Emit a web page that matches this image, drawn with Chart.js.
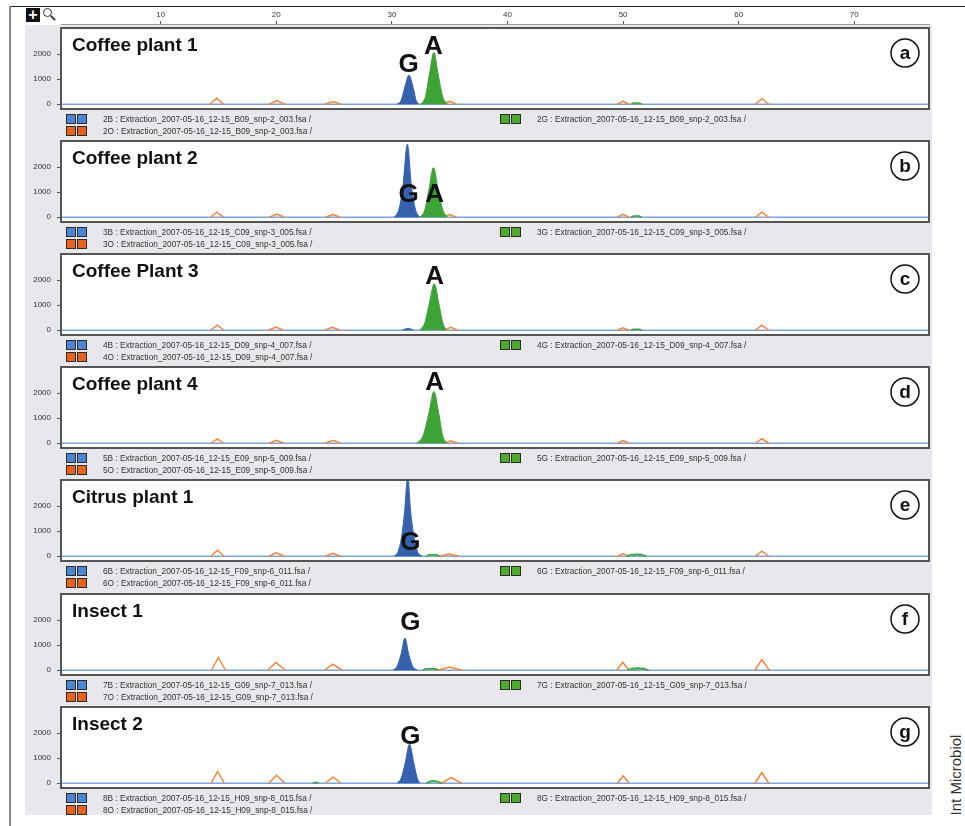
<!DOCTYPE html>
<html>
<head>
<meta charset="utf-8">
<title>SNP genotyping electropherograms</title>
<script src="https://cdn.jsdelivr.net/npm/chart.js@4.4.1/dist/chart.umd.min.js"></script>
<style>
  html, body { margin: 0; padding: 0; background: #fff; }
  body { width: 965px; height: 826px; position: relative; overflow: hidden;
         font-family: "Liberation Sans", Arial, sans-serif; color: #333; }
  #frameTop { position: absolute; left: 10px; top: 6px; width: 955px; height: 1px; background: #222; }
  #frameLeft { position: absolute; left: 9px; top: 6px; width: 2px; height: 820px; background: #8a8a8a; }
  #workspace { position: absolute; left: 25px; top: 25px; width: 907px; height: 790px; background: #e8e8ec; }
  #toolPlus { position: absolute; left: 26px; top: 8px; width: 14px; height: 14px; background: #111;
              color: #fff; font: bold 16px/14px "Liberation Sans", Arial, sans-serif; text-align: center; }
  #toolLens { position: absolute; left: 43px; top: 8px; width: 7px; height: 7px; border: 1.5px solid #333; border-radius: 50%; }
  #toolHandle { position: absolute; left: 50px; top: 17px; width: 6px; height: 2px; background: #333; transform: rotate(45deg); }
  canvas { position: absolute; }
  .legendText { position: absolute; font-size: 8.3px; line-height: 10px; white-space: nowrap; color: #333; z-index: 2; }
  .swatch { position: absolute; width: 8px; height: 8px; border: 1px solid #2a2a2a; z-index: 2; }
  #journal { position: absolute; left: 955px; top: 775px; transform: translate(-50%, -50%) rotate(-90deg);
             font-size: 15px; white-space: nowrap; color: #333; }
</style>
</head>
<body>
<div id="frameTop"></div>
<div id="frameLeft"></div>
<div id="workspace"></div>
<div id="toolPlus">+</div>
<div id="toolLens"></div>
<div id="toolHandle"></div>
<div id="journal">Int Microbiol</div>

<script>
// ---- axis values ----
const rulerTicks = [10, 20, 30, 40, 50, 60, 70];
const yTicks = [0, 1000, 2000];

// ---- samples ----
const panelTitles = ['Coffee plant 1', 'Coffee plant 2', 'Coffee Plant 3', 'Coffee plant 4',
                     'Citrus plant 1', 'Insect 1', 'Insect 2'];
const panelLetters = ['a', 'b', 'c', 'd', 'e', 'f', 'g'];
const sampleNums = [2, 3, 4, 5, 6, 7, 8];
const wells = ['B09', 'C09', 'D09', 'E09', 'F09', 'G09', 'H09'];
const runNums = ['003', '005', '007', '009', '011', '013', '015'];

// ---- blue (G) trace, [size, rfu] ----
const blueA = [[30.45,0],[30.8,150],[31.1,650],[31.48,1160],[31.85,650],[32.1,150],[32.35,0]];
const blueB = [[30.2,0],[30.6,300],[30.95,1200],[31.34,2920],[31.7,1200],[32.05,300],[32.4,0]];
const blueC = [[30.9,0],[31.4,80],[31.9,0]];
const blueD = [];
const blueE = [[30.2,0],[30.55,200],[30.85,800],[31.1,1800],[31.37,3200],[31.62,1800],[31.9,800],[32.2,200],[32.6,0]];
const blueF = [[30.1,0],[30.45,150],[30.8,650],[31.13,1290],[31.45,650],[31.8,150],[32.2,0]];
const blueG = [[30.45,0],[30.8,200],[31.15,800],[31.52,1560],[31.9,800],[32.2,200],[32.4,0]];

// ---- green (A) trace ----
const greenA = [[32.5,0],[32.9,300],[33.25,1200],[33.64,2070],[34.0,1200],[34.4,300],[34.8,0]];
const greenB = [[32.45,0],[32.85,300],[33.2,1100],[33.6,1985],[34.0,1100],[34.4,300],[34.8,0]];
const greenC = [[32.4,0],[32.85,300],[33.25,1100],[33.67,1860],[34.05,1100],[34.4,300],[34.75,0]];
const greenD = [[32.15,0],[32.7,300],[33.2,1200],[33.64,2070],[34.05,1200],[34.4,300],[34.75,0]];
const greenE = [];
const greenF = [];
const greenG = [];

// ---- orange size standard: [start, apex, height, end] ----
const orangeA = [[14.25,14.85,240,15.45],[19.4,20.05,150,20.75],[24.2,24.9,110,25.6],[34.4,35.0,120,35.6],[49.5,50.0,130,50.5],[61.45,62.0,220,62.6]];
const orangeB = [[14.3,14.85,200,15.45],[19.4,20.05,130,20.7],[24.25,24.9,110,25.55],[34.45,35.0,110,35.6],[49.5,50.0,120,50.5],[61.45,62.0,200,62.6]];
const orangeC = [[14.3,14.9,200,15.5],[19.35,19.95,130,20.6],[24.2,24.85,120,25.5],[34.5,35.1,120,35.7],[49.5,50.0,100,50.5],[61.45,62.0,200,62.6]];
const orangeD = [[14.35,14.9,170,15.45],[19.4,20.0,120,20.65],[24.25,24.9,120,25.55],[34.55,35.1,100,35.7],[49.5,50.0,110,50.5],[61.45,62.0,180,62.6]];
const orangeE = [[14.35,14.9,240,15.5],[19.4,20.0,150,20.65],[24.25,24.9,120,25.55],[34.1,34.9,90,35.8],[49.5,50.0,100,50.5],[61.45,62.0,200,62.6]];
const orangeF = [[14.4,14.99,510,15.6],[19.25,19.97,310,20.8],[24.15,24.9,240,25.7],[33.9,35.0,130,36.1],[49.45,49.97,320,50.5],[61.4,62.0,430,62.65]];
const orangeG = [[14.35,14.93,470,15.5],[19.35,20.03,320,20.75],[24.25,24.93,250,25.6],[34.3,35.1,230,36.05],[49.5,50.0,290,50.55],[61.4,62.0,430,62.6]];

// ---- minor green bumps ----
const minorGreenA = [[[50.7,0],[50.9,50],[51.4,50],[51.6,0]]];
const minorGreenB = [[[50.7,0],[50.9,50],[51.4,50],[51.6,0]]];
const minorGreenC = [[[50.7,0],[50.9,45],[51.4,45],[51.6,0]]];
const minorGreenD = [];
const minorGreenE = [[[33.0,0],[33.2,60],[33.9,60],[34.1,0]], [[50.3,0],[50.7,70],[51.6,70],[52.0,0]]];
const minorGreenF = [[[32.7,0],[32.9,60],[33.8,60],[34.0,0]], [[50.4,0],[50.8,80],[51.8,70],[52.2,0]]];
const minorGreenG = [[[23.15,0],[23.4,40],[23.65,0]], [[33.0,0],[33.3,80],[33.6,100],[33.9,80],[34.3,0]]];

// ---- minor blue bumps ----
const minorBlueE = [[[50.8,0],[51.2,90],[51.6,0]]];
const minorBlueF = [[[50.9,0],[51.3,110],[51.8,0]]];

// ---- base call letters: [letter, size, rfu] ----
const callsA = [['G', 31.45, 1570], ['A', 33.6, 2300]];
const callsB = [['G', 31.45, 880], ['A', 33.7, 880]];
const callsC = [['A', 33.7, 2120]];
const callsD = [['A', 33.7, 2430]];
const callsE = [['G', 31.6, 520]];
const callsF = [['G', 31.6, 1880]];
const callsG = [['G', 31.6, 1860]];

const blueTraces = [blueA, blueB, blueC, blueD, blueE, blueF, blueG];
const greenTraces = [greenA, greenB, greenC, greenD, greenE, greenF, greenG];
const orangeTraces = [orangeA, orangeB, orangeC, orangeD, orangeE, orangeF, orangeG];
const minorGreens = [minorGreenA, minorGreenB, minorGreenC, minorGreenD, minorGreenE, minorGreenF, minorGreenG];
const minorBlues = [[], [], [], [], minorBlueE, minorBlueF, []];
const baseCalls = [callsA, callsB, callsC, callsD, callsE, callsF, callsG];

// ---- layout ----
const FONT = '"Liberation Sans", Arial, sans-serif';
const X_MIN = 1.38, X_MAX = 76.46;
const Y_MIN = -190, Y_MAX = 3050;
const CANVAS_LEFT = 25, CANVAS_W = 907;
const AXIS_W = 36, PAD_R = 3;
const PANEL_H = 81, PANEL_STEP = 113.1, FIRST_TOP = 28, EXTRA = 6;

const COLORS = {
  baseline: '#7ea6dd', blue: '#3561ae', green: '#3ea336', orange: '#f3863a'
};

function toPoints(list) { return list.map(p => ({ x: p[0], y: p[1] })); }
function bumpsToPoints(bumps) {
  const out = [];
  bumps.forEach((b, i) => {
    if (i > 0) out.push({ x: b[0][0], y: null });
    b.forEach(p => out.push({ x: p[0], y: p[1] }));
  });
  return out;
}
function sizeStdToPoints(peaks) {
  const out = [];
  peaks.forEach((p, i) => {
    if (i > 0) out.push({ x: p[0], y: null });
    out.push({ x: p[0], y: 0 }, { x: p[1], y: p[2] }, { x: p[3], y: 0 });
  });
  return out;
}

function makeCanvas(left, top, w, h) {
  const c = document.createElement('canvas');
  c.width = w; c.height = h;
  c.style.left = left + 'px'; c.style.top = top + 'px';
  c.style.width = w + 'px'; c.style.height = h + 'px';
  document.body.appendChild(c);
  return c;
}

// ---- size ruler across the top ----
const rulerCanvas = makeCanvas(CANVAS_LEFT, 7, CANVAS_W, 22);
new Chart(rulerCanvas, {
  type: 'scatter',
  data: { datasets: [{ data: [] }] },
  options: {
    animation: false, responsive: false, devicePixelRatio: 1,
    layout: { padding: { left: AXIS_W, right: PAD_R, top: 0, bottom: 0 } },
    plugins: { legend: { display: false }, tooltip: { enabled: false } },
    scales: {
      x: {
        type: 'linear', position: 'top', min: X_MIN, max: X_MAX,
        afterBuildTicks: s => { s.ticks = rulerTicks.map(v => ({ value: v })); },
        afterFit: s => { s.height = 17; s.paddingLeft = 0; s.paddingRight = 0; },
        grid: { drawOnChartArea: false, tickLength: 3, color: '#555' },
        border: { color: '#9a9a9a', width: 1 },
        ticks: { font: { size: 8, family: FONT }, color: '#333', padding: 1, maxRotation: 0,
                 callback: v => String(v) }
      },
      y: { display: false, min: 0, max: 1 }
    }
  }
});

// ---- per-panel drawing: white plot box, frame, title, letter, base calls ----
const panelDecor = {
  id: 'panelDecor',
  beforeDraw(chart) {
    const { ctx, chartArea: a } = chart;
    ctx.save();
    ctx.fillStyle = '#fff';
    ctx.fillRect(a.left, a.top, a.right - a.left, a.bottom - a.top);
    ctx.restore();
  },
  afterDraw(chart, args, opts) {
    const { ctx, chartArea: a, scales } = chart;
    ctx.save();
    // frame
    ctx.strokeStyle = '#555';
    ctx.lineWidth = 2;
    ctx.strokeRect(a.left, a.top, a.right - a.left, a.bottom - a.top);
    // title
    ctx.fillStyle = '#111';
    ctx.font = 'bold 19px ' + FONT;
    ctx.textAlign = 'left';
    ctx.textBaseline = 'alphabetic';
    ctx.fillText(opts.title, a.left + 11, a.top + 23);
    // circled panel letter
    const cx = a.right - 24, cy = a.top + 25;
    ctx.beginPath();
    ctx.arc(cx, cy, 14, 0, Math.PI * 2);
    ctx.fillStyle = '#fff';
    ctx.fill();
    ctx.lineWidth = 1.5;
    ctx.strokeStyle = '#111';
    ctx.stroke();
    ctx.fillStyle = '#111';
    ctx.font = 'bold 19px ' + FONT;
    ctx.textAlign = 'center';
    ctx.textBaseline = 'middle';
    ctx.fillText(opts.letter, cx, cy + 1);
    // base calls
    ctx.font = 'bold 26px ' + FONT;
    opts.calls.forEach(c => {
      ctx.fillText(c[0], scales.x.getPixelForValue(c[1]), scales.y.getPixelForValue(c[2]));
    });
    ctx.restore();
  }
};

function addSwatches(x, y, color) {
  [0, 11].forEach(dx => {
    const d = document.createElement('div');
    d.className = 'swatch';
    d.style.left = (x + dx) + 'px';
    d.style.top = y + 'px';
    d.style.background = color;
    document.body.appendChild(d);
  });
}
function addLegendText(x, y, text) {
  const d = document.createElement('div');
  d.className = 'legendText';
  d.style.left = x + 'px';
  d.style.top = y + 'px';
  d.textContent = text;
  document.body.appendChild(d);
}

panelTitles.forEach((title, i) => {
  const top = Math.round(FIRST_TOP + i * PANEL_STEP);
  const canvas = makeCanvas(CANVAS_LEFT, top - EXTRA, CANVAS_W, PANEL_H + 2 * EXTRA);

  const datasets = [
    { data: toPoints([[X_MIN, 0], [X_MAX, 0]]), borderColor: COLORS.baseline, borderWidth: 1.5, order: 5 },
    { data: sizeStdToPoints(orangeTraces[i]), borderColor: COLORS.orange, borderWidth: 1.5, order: 4 },
    { data: bumpsToPoints(minorGreens[i]), borderColor: COLORS.green, backgroundColor: 'rgba(62,163,54,0.35)',
      fill: 'origin', borderWidth: 1.5, order: 3 },
    { data: bumpsToPoints(minorBlues[i]), borderColor: COLORS.baseline, borderWidth: 1.5, order: 3 },
    { data: toPoints(greenTraces[i]), borderColor: COLORS.green, backgroundColor: COLORS.green,
      fill: 'origin', borderWidth: 1, cubicInterpolationMode: 'monotone', order: 1 },
    { data: toPoints(blueTraces[i]), borderColor: COLORS.blue, backgroundColor: COLORS.blue,
      fill: 'origin', borderWidth: 1, cubicInterpolationMode: 'monotone', order: 0 }
  ];
  datasets.forEach(d => { d.pointRadius = 0; d.showLine = true; d.spanGaps = false; });

  new Chart(canvas, {
    type: 'scatter',
    data: { datasets },
    options: {
      animation: false, responsive: false, devicePixelRatio: 1,
      layout: { padding: { left: 0, right: PAD_R, top: EXTRA, bottom: EXTRA } },
      plugins: {
        legend: { display: false }, tooltip: { enabled: false },
        panelDecor: { title, letter: panelLetters[i], calls: baseCalls[i] }
      },
      scales: {
        x: { type: 'linear', min: X_MIN, max: X_MAX, display: false },
        y: {
          type: 'linear', min: Y_MIN, max: Y_MAX,
          afterBuildTicks: s => { s.ticks = yTicks.map(v => ({ value: v })); },
          afterFit: s => { s.width = AXIS_W; s.paddingTop = 0; s.paddingBottom = 0; },
          grid: { drawOnChartArea: false, tickLength: 4, color: '#555' },
          border: { display: false },
          ticks: { font: { size: 8, family: FONT }, color: '#333', padding: 6, callback: v => String(v) }
        }
      }
    },
    plugins: [panelDecor]
  });

  // trace file legend under each panel
  const bottom = top + PANEL_H;
  const n = sampleNums[i];
  const file = `Extraction_2007-05-16_12-15_${wells[i]}_snp-${n}_${runNums[i]}.fsa /`;
  addSwatches(66, bottom + 5, '#4a86d4');
  addSwatches(66, bottom + 17, '#e9621e');
  addSwatches(500, bottom + 5, '#4caa2c');
  addLegendText(103, bottom + 5, `${n}B : ${file}`);
  addLegendText(103, bottom + 17, `${n}O : ${file}`);
  addLegendText(537, bottom + 5, `${n}G : ${file}`);
});
</script>
</body>
</html>
